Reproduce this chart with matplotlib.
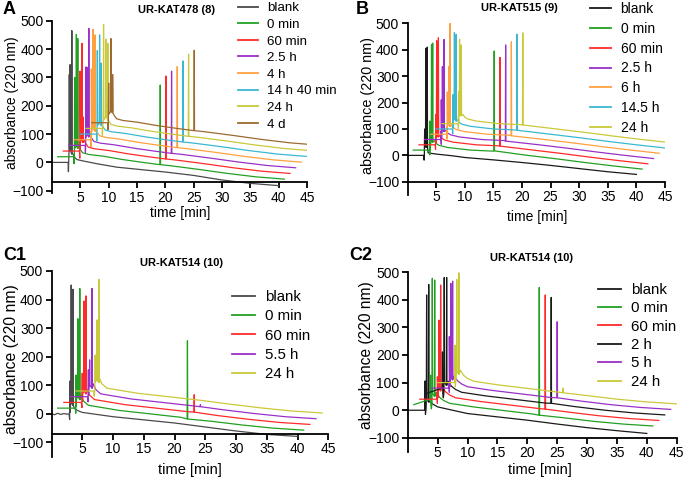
import numpy as np
import matplotlib.pyplot as plt

plt.rcParams['font.family'] = ['Liberation Sans', 'DejaVu Sans']

W, H = 685, 479

# waterfall layout: each next run is moved 1 min right and 20 units up
shift_t = 1.0
shift_y = 20.0

# ---------------- A : UR-KAT478 (8) ----------------
a_labels = ['blank', '0 min', '60 min', '2.5 h', '4 h', '14 h 40 min', '24 h', '4 d']
a_colors = ['#4a4a4a', '#22a022', '#ff2a2a', '#9b30c8', '#ffa040', '#3bb8d0', '#c9c93a', '#9c6a2e']
a_blank_t = [0, 2.85, 2.9, 2.95, 3.7, 3.9, 4.4, 5.5, 8, 11.5, 15, 20, 25, 30, 35, 40]
a_blank_y = [0, 0, -33, 5, 30, 20, 10, 5, -5, -17, -24, -34, -46, -62, -74, -82]
a_samp_t = [0, 2.85, 2.9, 2.95, 3.7, 3.9, 4.4, 5.5, 8, 11.5, 15, 20, 25, 30, 35, 40]
a_samp_y = [0, 0, -25, 5, 40, 28, 14, 8, 2, -10, -20, -32, -45, -59, -71, -79]
# peaks: (time, foot, top)
a_peaks = [
    [(3.05, 40, 310), (3.2, 50, 345), (3.5, 30, 465)],
    [(3.0, 30, 280), (3.3, 40, 432), (3.55, 30, 417), (18.1, -28, 253)],
    [(2.95, 30, 282), (3.3, 40, 380), (3.5, 30, 120), (18.1, -28, 265)],
    [(3.0, 30, 277), (3.2, 40, 275), (3.5, 30, 413), (18.1, -28, 262)],
    [(2.95, 30, 250), (3.25, 40, 390), (3.6, 30, 370), (18.1, -28, 258)],
    [(3.0, 30, 295), (3.4, 40, 350), (3.7, 30, 250), (18.1, -28, 258)],
    [(3.1, 30, 367), (3.5, 40, 315), (3.85, 30, 300), (18.1, -28, 262)],
    [(3.0, 30, 140), (3.4, 40, 297), (3.7, 35, 170), (18.1, -28, 256)],
]

# ---------------- B : UR-KAT515 (9) ----------------
b_labels = ['blank', '0 min', '60 min', '2.5 h', '6 h', '14.5 h', '24 h']
b_colors = ['#1a1a1a', '#22a022', '#ff2a2a', '#9b30c8', '#ffa040', '#3bb8d0', '#c9c93a']
b_blank_t = [0, 2.85, 2.9, 2.95, 3.6, 4, 5, 8, 10, 15, 20, 25, 30, 35, 40]
b_blank_y = [0, 0, -18, 5, 10, 8, 5, -2, -8, -17, -27, -38, -50, -62, -72]
b_samp_t = [0, 2.85, 2.9, 2.95, 3.7, 4.0, 4.5, 6, 10, 14, 20, 25, 30, 35, 40]
b_samp_y = [0, 0, -18, 5, 35, 25, 18, 10, 0, -4, -20, -33, -47, -60, -72]
b_peaks = [
    [(3.0, 30, 100), (3.2, 40, 405), (3.45, 30, 410)],
    [(2.9, 30, 110), (3.2, 40, 400), (3.4, 30, 405), (14.15, -3, 375)],
    [(2.95, 30, 115), (3.1, 40, 394), (3.4, 30, 405), (14.15, -5, 331)],
    [(2.9, 30, 150), (3.1, 40, 276), (3.4, 30, 379), (14.15, -6, 358)],
    [(2.95, 30, 160), (3.2, 40, 256), (3.45, 30, 420), (14.15, -6, 350)],
    [(2.95, 30, 130), (3.2, 40, 365), (3.5, 30, 358), (14.15, -5, 359)],
    [(2.95, 30, 121), (3.1, 40, 319), (3.4, 30, 298), (14.15, -5, 344)],
]

# ---------------- C1 : UR-KAT514 (10) ----------------
c1_labels = ['blank', '0 min', '60 min', '5.5 h', '24 h']
c1_colors = ['#4a4a4a', '#22a022', '#ff2a2a', '#9b30c8', '#c9c93a']
c1_blank_t = [0, 0.5, 1, 1.5, 2, 2.5, 2.85, 2.95, 3.05, 3.7, 4.2, 5, 10, 15, 20, 25, 30, 35, 40]
c1_blank_y = [0, -3, 2, -2, 1, -1, 0, -20, 5, 20, 12, 5, -10, -21, -32, -46, -60, -72, -79]
c1_samp_t = [0, 2.85, 2.95, 3.05, 3.8, 4.2, 5, 10, 15, 20, 25, 30, 35, 40]
c1_samp_y = [0, 0, -18, 5, 45, 25, 10, -8, -20, -32, -46, -59, -70, -77]
c1_peaks = [
    [(3.0, 20, 115), (3.2, 40, 451), (3.5, 30, 436)],
    [(3.0, 30, 116), (3.3, 40, 313), (3.6, 30, 419), (21.1, -38, 236)],
    [(3.0, 30, 102), (3.3, 40, 355), (3.6, 30, 373), (21.2, -34, 27)],
    [(3.0, 30, 94), (3.2, 40, 129), (3.6, 30, 379), (21.2, -35, -28)],
    [(3.1, 30, 126), (3.4, 40, 249), (3.7, 30, 391)],
]

# ---------------- C2 : UR-KAT514 (10) ----------------
c2_labels = ['blank', '0 min', '60 min', '2 h', '5 h', '24 h']
c2_colors = ['#1a1a1a', '#22a022', '#ff2a2a', '#1a1a1a', '#9b30c8', '#c9c93a']
c2_blank_t = [0, 2.85, 2.95, 3.05, 3.8, 4.2, 5, 10, 15, 20, 25, 30, 35, 40]
c2_blank_y = [0, 0, -15, 5, 30, 22, 12, -12, -24, -36, -50, -63, -74, -84]
c2_samp_t = [0, 2.85, 2.95, 3.05, 3.8, 4.3, 5, 6, 10, 15, 20, 25, 30, 35, 40]
c2_samp_y = [0, 0, -15, 5, 45, 27, 15, 5, -8, -21, -34, -47, -60, -70, -77]
c2_peaks = [
    [(2.9, 20, 106), (3.15, 40, 417), (3.5, 30, 455)],
    [(2.8, 20, 107), (3.1, 40, 457), (3.5, 30, 451), (21.0, -38, 424)],
    [(2.95, 20, 81), (3.2, 40, 286), (3.5, 30, 413), (21.0, -36, 377)],
    [(2.8, 20, 151), (3.1, 40, 420), (3.5, 30, 420), (21.0, -35, 348)],
    [(2.95, 20, 186), (3.2, 40, 379), (3.5, 30, 387), (21.0, -35, 240)],
    [(2.9, 20, 135), (3.2, 40, 373), (3.55, 30, 397), (21.0, -37, -20)],
]


def build_trace(base_t, base_y, peaks, w=0.05):
    pts = list(zip(base_t, base_y))
    for t, foot, top in peaks:
        pts += [(t - w, foot), (t, top), (t + w, foot)]
    pts.sort(key=lambda p: p[0])
    t = np.array([p[0] for p in pts])
    y = np.array([p[1] for p in pts])
    return t, y


def px_axes(fig, x0, x1, ytop, ybot):
    return fig.add_axes([x0 / W, 1 - ybot / H, (x1 - x0) / W, (ybot - ytop) / H])


def draw_panel(ax, labels, colors, blank, samp, peaks, xaxis_at, ybottom):
    for i, (lab, col, pk) in enumerate(zip(labels, colors, peaks)):
        bt, by = blank if i == 0 else samp
        t, y = build_trace(bt, by, pk)
        ax.plot(t + i * shift_t, y + i * shift_y, color=col, lw=0.9, label=lab)
    ax.set_xlim(0, 45)
    ax.set_ylim(ybottom, 500)
    ax.set_xticks(np.arange(5, 50, 5))
    ax.set_yticks(np.arange(-100, 501, 100))
    ax.spines['top'].set_visible(False)
    ax.spines['right'].set_visible(False)
    ax.spines['bottom'].set_position(('data', xaxis_at))
    for s in ('left', 'bottom'):
        ax.spines[s].set_linewidth(1.3)
    ax.tick_params(direction='out', length=4, width=1.3, labelsize=10, pad=2)


def put_legend(fig, ax, x, ytop, fs, spacing):
    leg = ax.legend(loc='upper left', bbox_to_anchor=(x / W, 1 - ytop / H),
                    bbox_transform=fig.transFigure, frameon=False, fontsize=fs,
                    borderpad=0, borderaxespad=0, handlelength=1.5,
                    handletextpad=0.7, labelspacing=spacing)
    for ln in leg.get_lines():
        ln.set_linewidth(1.3)


fig = plt.figure(figsize=(W / 100, H / 100), dpi=100)

axA = px_axes(fig, 52, 307, 20.7, 193)
draw_panel(axA, a_labels, a_colors, (a_blank_t, a_blank_y), (a_samp_t, a_samp_y),
           a_peaks, -70, -108)
put_legend(fig, axA, 238, 2, 9.6, 0.32)

axB = px_axes(fig, 407.5, 665, 23.3, 195)
draw_panel(axB, b_labels, b_colors, (b_blank_t, b_blank_y), (b_samp_t, b_samp_y),
           b_peaks, -100, -150)
put_legend(fig, axB, 590, 2, 10, 0.42)

axC1 = px_axes(fig, 51.5, 328.3, 271, 456.7)
draw_panel(axC1, c1_labels, c1_colors, (c1_blank_t, c1_blank_y), (c1_samp_t, c1_samp_y),
           c1_peaks, -70, -150)
put_legend(fig, axC1, 232, 290, 10.8, 0.35)

axC2 = px_axes(fig, 407.8, 676.7, 272, 451.7)
draw_panel(axC2, c2_labels, c2_colors, (c2_blank_t, c2_blank_y), (c2_samp_t, c2_samp_y),
           c2_peaks, -100, -150)
put_legend(fig, axC2, 598, 283, 10.8, 0.29)

# axis titles, panel titles and letters placed in figure pixels
for xc, yc, txt, fs in [(180, 213, 'time [min]', 10), (537, 217, 'time [min]', 10),
                        (190, 470, 'time [min]', 10.5), (540, 470, 'time [min]', 10.5)]:
    fig.text(xc / W, 1 - yc / H, txt, ha='center', va='center', fontsize=fs)

for xc, yc, fs in [(12, 103, 10), (368, 106, 10.4), (12, 359, 11.3), (367, 355, 11.2)]:
    fig.text(xc / W, 1 - yc / H, 'absorbance (220 nm)', ha='center', va='center',
             rotation=90, fontsize=fs)

for xc, yc, txt in [(176, 10, 'UR-KAT478 (8)'), (519, 8, 'UR-KAT515 (9)'),
                    (181, 263, 'UR-KAT514 (10)'), (532, 258, 'UR-KAT514 (10)')]:
    fig.text(xc / W, 1 - yc / H, txt, ha='center', va='center', fontsize=8, weight='bold')

for xl, yc, txt in [(3, 10, 'A'), (356, 10, 'B'), (3, 255, 'C1'), (349, 255, 'C2')]:
    fig.text(xl / W, 1 - yc / H, txt, ha='left', va='center', fontsize=13, weight='bold')

fig.savefig('out.png', dpi=100)
